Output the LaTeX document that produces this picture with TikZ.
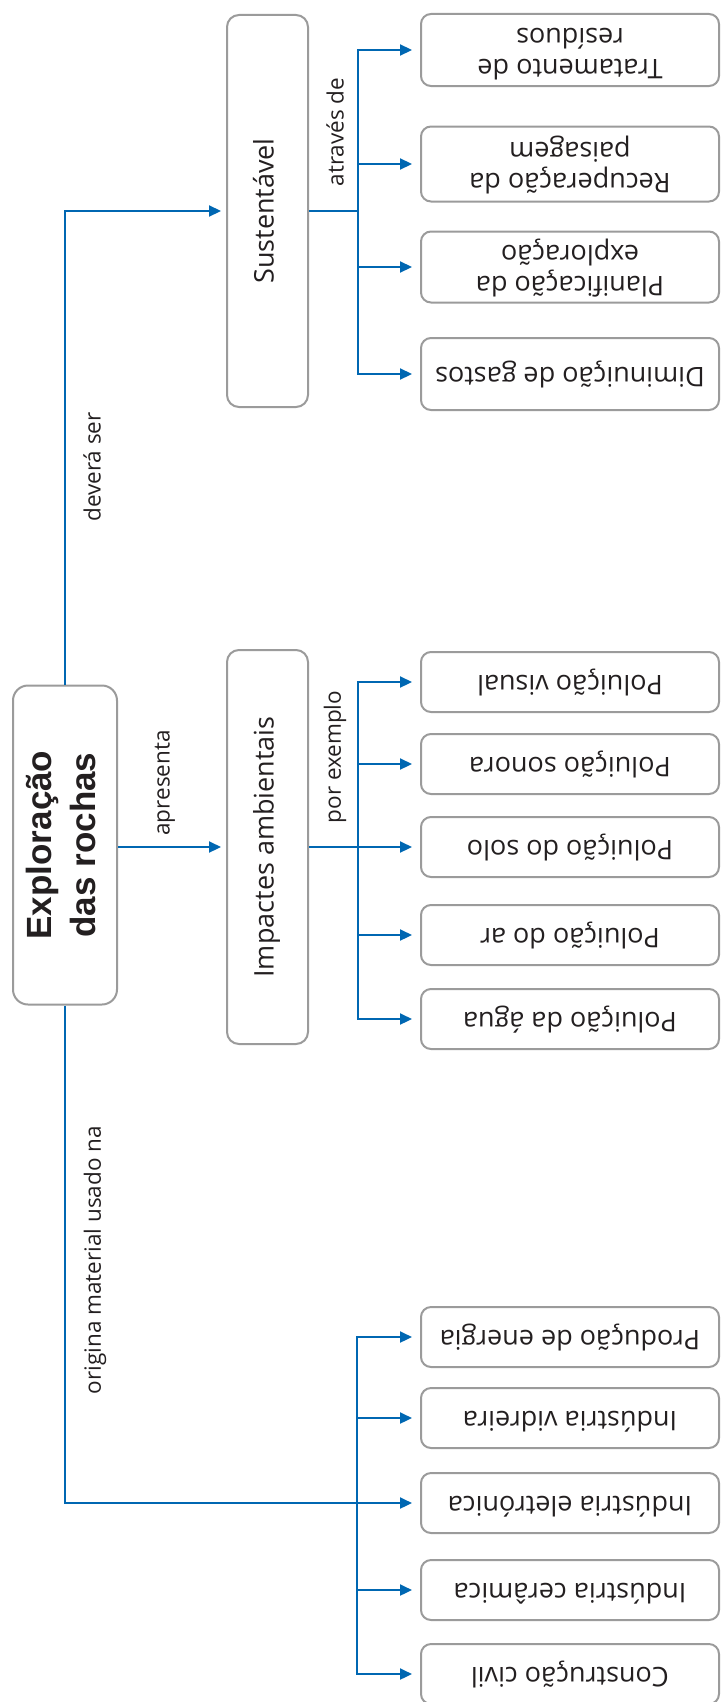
\documentclass[tikz,border=0pt]{standalone}
\usepackage{fontspec}
\setmainfont{Open Sans}
\newfontfamily\titlefont{Liberation Sans}
\usepackage{graphicx}
\usetikzlibrary{arrows.meta, calc}
\definecolor{linkblue}{RGB}{0, 103, 178}
\definecolor{boxgray}{RGB}{155, 155, 155}
\definecolor{inkdark}{RGB}{35, 31, 32}
\newcommand{\leaftext}[1]{\rotatebox{180}{\begin{tabular}{@{}c@{}}#1\end{tabular}}}
\newcommand{\sidetext}[1]{\rotatebox{90}{\begin{tabular}{@{}c@{}}#1\end{tabular}}}

\begin{document}
\begin{tikzpicture}[x=1pt, y=-1pt,
  cbox/.style={draw=boxgray, line width=2pt, fill=white, rounded corners=12pt, inner sep=0pt, text=inkdark, font=\fontsize{27}{31}\selectfont},
  leaf/.style={cbox, rounded corners=10pt, minimum width=298pt, minimum height=60pt},
  twoleaf/.style={leaf, minimum height=72pt},
  link/.style={draw=linkblue, line width=2.2pt, -{Triangle[length=12pt, width=11pt]}, shorten >=8pt},
  lbl/.style={text=inkdark, font=\fontsize{22.5}{26}\selectfont, inner sep=0pt, rotate=90}
]
  \useasboundingbox (0,0) rectangle (720,1702);

  \node[cbox, rounded corners=15pt, minimum width=104pt, minimum height=319pt,
    font=\titlefont\bfseries\fontsize{35}{44}\selectfont] (main) at (65,845)
    {\sidetext{Exploração\\das rochas}};
  \node[cbox, minimum width=81pt, minimum height=392pt] (sus) at (267.5,211) {\sidetext{Sustentável}};
  \node[cbox, minimum width=81pt, minimum height=394pt] (imp) at (267.5,847) {\sidetext{Impactes ambientais}};

  \node[twoleaf] (trat) at (570,50) {\leaftext{Tratamento de\\resíduos}};
  \node[twoleaf, minimum height=75pt] (recup) at (570,164) {\leaftext{Recuperação da\\paisagem}};
  \node[twoleaf, minimum height=71pt] (plan) at (570,267) {\leaftext{Planificação da\\exploração}};
  \node[twoleaf] (dimin) at (570,374) {\leaftext{Diminuição de gastos}};

  \node[leaf] (visual) at (570,682) {\leaftext{Poluição visual}};
  \node[leaf] (sonora) at (570,764) {\leaftext{Poluição sonora}};
  \node[leaf] (solo) at (570,847) {\leaftext{Poluição do solo}};
  \node[leaf] (ar) at (570,935) {\leaftext{Poluição do ar}};
  \node[leaf] (agua) at (570,1019) {\leaftext{Poluição da água}};

  \node[leaf] (prod) at (570,1337) {\leaftext{Produção de energia}};
  \node[leaf] (vidr) at (570,1418) {\leaftext{Indústria vidreira}};
  \node[leaf] (eletr) at (570,1503) {\leaftext{Indústria eletrónica}};
  \node[leaf] (ceram) at (570,1590) {\leaftext{Indústria cerâmica}};
  \node[leaf] (civil) at (570,1674) {\leaftext{Construção civil}};

  \draw[link, shorten >=5pt] (main.north) |- (sus.west);
  \draw[link, shorten >=5pt] (main.east |- imp.west) -- (imp.west);
  \draw[link] (main.south) |- (eletr.west);
  \coordinate (jb) at (357,1503);

  \foreach \leafname in {trat, recup, plan, dimin}
    \draw[link] (sus.east) -- ++(49,0) |- (\leafname.west);
  \foreach \leafname in {visual, sonora, solo, ar, agua}
    \draw[link] (imp.east) -- ++(49,0) |- (\leafname.west);
  \foreach \leafname in {prod, vidr, ceram, civil}
    \draw[link] (jb) |- (\leafname.west);

  \node[lbl] (lsus) at (92,467) {deverá ser};
  \node[lbl] (limp) at (165,783) {apresenta};
  \node[lbl] (lmat) at (95,1260) {origina material usado na};
  \node[lbl] (lex) at (335,757) {por exemplo};
  \node[lbl] (latr) at (335,132) {através de};
\end{tikzpicture}
\end{document}
